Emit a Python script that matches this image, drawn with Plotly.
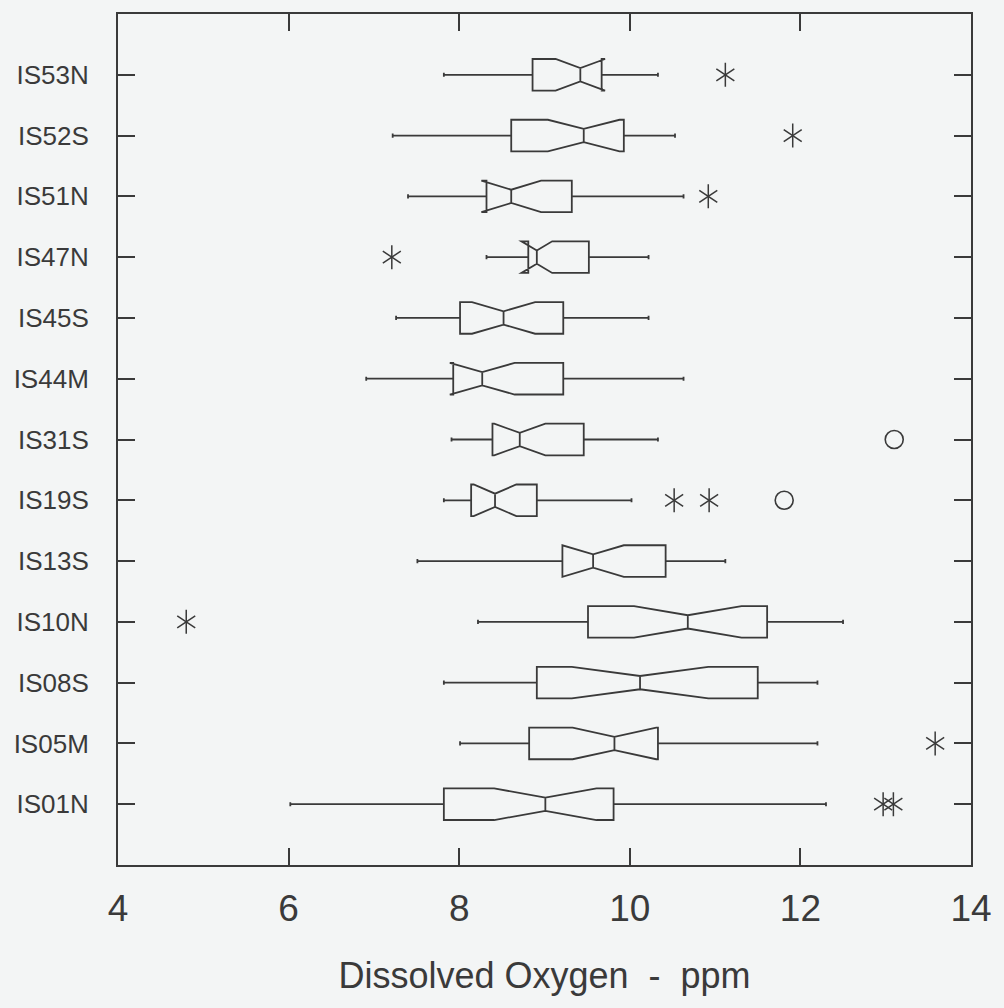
import plotly.graph_objects as go

# Sites, top to bottom as in the chart
sites = ["IS53N", "IS52S", "IS51N", "IS47N", "IS45S", "IS44M", "IS31S",
         "IS19S", "IS13S", "IS10N", "IS08S", "IS05M", "IS01N"]

lower_whisker = [7.82, 7.22, 7.40, 8.32, 7.26, 6.91, 7.91, 7.82, 7.51, 8.22, 7.82, 8.01, 6.02]
q1 = [8.86, 8.61, 8.32, 8.81, 8.01, 7.93, 8.39, 8.14, 9.21, 9.51, 8.91, 8.82, 7.82]
median = [9.42, 9.46, 8.61, 8.91, 8.52, 8.27, 8.71, 8.42, 9.57, 10.68, 10.12, 9.82, 9.01]
q3 = [9.67, 9.93, 9.32, 9.52, 9.22, 9.22, 9.46, 8.91, 10.42, 11.61, 11.50, 10.33, 9.81]
upper_whisker = [10.33, 10.53, 10.63, 10.22, 10.22, 10.63, 10.33, 10.02, 11.12, 12.50, 12.20, 12.20, 12.30]
notch_half = [0.29, 0.42, 0.35, 0.18, 0.37, 0.38, 0.30, 0.25, 0.36, 0.63, 0.80, 0.49, 0.60]

# Outside values (asterisks) and far-out values (circles)
star_sites = ["IS53N", "IS52S", "IS51N", "IS47N", "IS19S", "IS19S", "IS10N", "IS05M", "IS01N", "IS01N"]
star_values = [11.12, 11.91, 10.92, 7.21, 10.52, 10.93, 4.80, 13.58, 12.97, 13.09]
circle_sites = ["IS31S", "IS19S"]
circle_values = [13.10, 11.81]

x_ticks = [4, 6, 8, 10, 12, 14]
x_title = "Dissolved Oxygen  -  ppm"

ink = "#3a3a3a"
paper = "#f3f5f5"

fig = go.Figure()

fig.add_trace(go.Box(
    y=sites, q1=q1, median=median, q3=q3,
    lowerfence=lower_whisker, upperfence=upper_whisker,
    notchspan=notch_half, notched=True, notchwidth=0.29,
    orientation="h", width=0.52, whiskerwidth=0.13,
    boxpoints=False, fillcolor="rgba(0,0,0,0)",
    line=dict(color=ink, width=1.8), showlegend=False, hoverinfo="skip",
))

for sym in ["y-up-open", "y-down-open"]:
    fig.add_trace(go.Scatter(
        x=star_values, y=star_sites, mode="markers", showlegend=False,
        marker=dict(symbol=sym, size=15, color=ink, line=dict(color=ink, width=1.5)),
        hoverinfo="skip",
    ))

fig.add_trace(go.Scatter(
    x=circle_values, y=circle_sites, mode="markers", showlegend=False,
    marker=dict(symbol="circle-open", size=18, color=ink, line=dict(color=ink, width=1.6)),
    hoverinfo="skip",
))

fig.update_layout(
    width=1004, height=1008,
    margin=dict(l=118, r=31, t=12, b=143),
    paper_bgcolor=paper, plot_bgcolor=paper,
    font=dict(family="Liberation Sans, Arial, sans-serif", color=ink),
)

fig.update_xaxes(
    range=[4, 14], tickvals=x_ticks, ticktext=[str(v) for v in x_ticks],
    showgrid=False, zeroline=False,
    showline=True, linecolor=ink, linewidth=2, mirror="allticks",
    ticks="inside", ticklen=17, tickwidth=2, tickcolor=ink,
    tickfont=dict(size=37, color=ink), ticklabelstandoff=10,
    title=dict(text=x_title, font=dict(size=36, color=ink), standoff=34),
)
fig.update_yaxes(
    type="category", categoryorder="array", categoryarray=sites[::-1],
    range=[-1, 13],
    showgrid=False, zeroline=False,
    showline=True, linecolor=ink, linewidth=2, mirror="allticks",
    ticks="inside", ticklen=17, tickwidth=2, tickcolor=ink,
    tickfont=dict(size=26, color=ink), ticklabelstandoff=22,
)

fig.write_html(
    "out.html",
    config={"displayModeBar": False},
    post_script="document.body.style.margin='0';document.body.style.background='%s';" % paper,
)
